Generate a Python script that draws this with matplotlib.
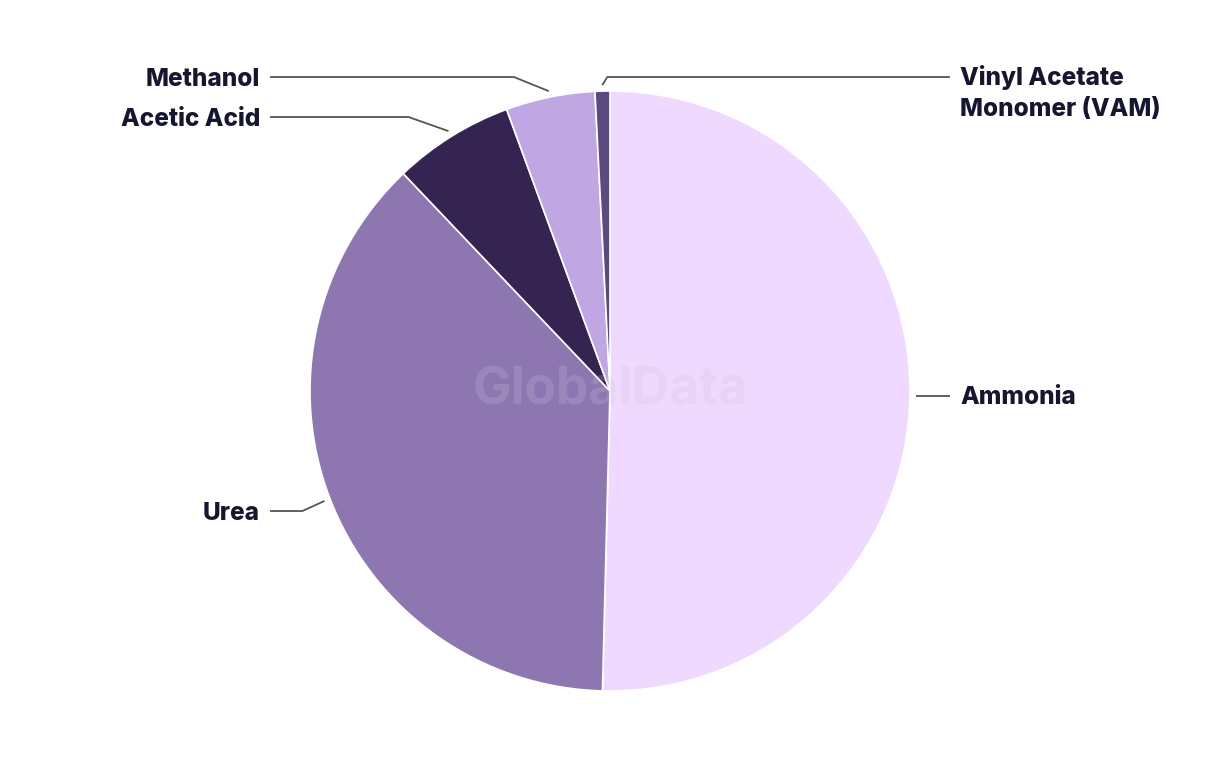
import numpy as np
import matplotlib.pyplot as plt

# share of each product (clockwise from 12 o'clock)
categories = ["Ammonia", "Urea", "Acetic Acid", "Methanol", "Vinyl Acetate\nMonomer (VAM)"]
shares = [50.4, 37.5, 6.5, 4.8, 0.8]
colours = ["#F0D9FE", "#8E77B0", "#352352", "#C0A6E2", "#5B4A80"]

W, H = 1220, 764
CX, CY, R = 610, H - 391, 300

# label layout: (label y in pixels from top, side)
label_y = [396, 511, 117, 77, 77]
label_side = [1, -1, -1, -1, 1]
elbow_dx = [0, 22, 40, 35, 5]

fig = plt.figure(figsize=(W / 100, H / 100), dpi=100)
ax = fig.add_axes([0, 0, 1, 1])

wedges, _ = ax.pie(
    shares,
    colors=colours,
    startangle=90,
    counterclock=False,
    center=(CX, CY),
    radius=R,
    frame=True,
    wedgeprops=dict(edgecolor="white", linewidth=1.2),
)
ax.set_xlim(0, W)
ax.set_ylim(0, H)
ax.set_aspect("equal")
ax.axis("off")

ax.text(CX, CY, "GlobalData", fontsize=37, fontweight="bold", family="Inter",
        color="#D0C0E0", alpha=0.22, ha="center", va="center", zorder=5)

for w, name, ly, side, edx in zip(wedges, categories, label_y, label_side, elbow_dx):
    ang = np.deg2rad((w.theta1 + w.theta2) / 2)
    sx = CX + R * 1.02 * np.cos(ang)
    sy = CY + R * 1.02 * np.sin(ang)
    y = H - ly
    if edx == 0:
        xs = [sx, 950 if side > 0 else 270]
        ys = [y, y]
    else:
        ex = sx + side * edx
        xs = [sx, ex, 950 if side > 0 else 270]
        ys = [sy, y, y]
    ax.plot(xs, ys, color="#555555", lw=1.3, solid_capstyle="butt")
    tx = 960 if side > 0 else 260
    if "\n" in name:
        va = "top"
        ty = y + 12
    else:
        va = "center"
        ty = y - 2
    ax.text(tx, ty, name, fontsize=17.5, fontweight="heavy", family="Inter",
            color="#161630", ha="left" if side > 0 else "right", va=va,
            linespacing=1.45)

fig.savefig("out.png", dpi=100, facecolor="white")
